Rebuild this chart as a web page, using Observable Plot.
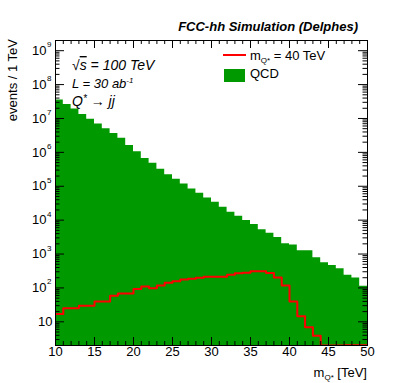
<!DOCTYPE html>
<html><head><meta charset="utf-8">
<script src="https://cdn.jsdelivr.net/npm/d3@7"></script>
<script src="https://cdn.jsdelivr.net/npm/@observablehq/plot@0.6"></script>
<style>
body{margin:0;background:#fff}
svg{font-family:"Liberation Sans",Arial,Helvetica,sans-serif}
</style>
</head><body><div id="chart"></div>
<script>
// bin lower edges (TeV), bin width 1 TeV
const binLow = [10,11,12,13,14,15,16,17,18,19,20,21,22,23,24,25,26,27,28,29,
                30,31,32,33,34,35,36,37,38,39,40,41,42,43,44,45,46,47,48,49];
const binHigh = 50;
// QCD background events / 1 TeV
const qcd = [3.5e7,2.6e7,1.9e7,1.3e7,9.5e6,6.9e6,5.0e6,3.6e6,2.6e6,1.6e6,
             1.05e6,6.6e5,4.8e5,3.2e5,2.2e5,1.6e5,1.17e5,8.3e4,6.2e4,4.5e4,
             3.4e4,2.4e4,1.7e4,1.3e4,9800,7400,5200,4100,3100,2000,
             1860,1260,1250,780,550,460,370,235,195,112];
// Signal m_Q* = 40 TeV
const signal = [17,25,25,30,30,40,40,59,69,69,
                93,110,97,118,141,158,178,186,200,214,
                214,214,245,270,282,309,309,277,204,118,
                40,14.5,6.9,3.9,2.0,2.0,2.0,2.05,2.05,2.05];
// axis ticks
const xTicks = [10,15,20,25,30,35,40,45,50];
const yExps = [1,2,3,4,5,6,7,8,9];
const yDomain = [2, 2e9];
const xDomain = [10, 50];

const W = 399, H = 383, mL = 55, mR = 32, mT = 40, mB = 38;
const iW = W - mL - mR, iH = H - mT - mB;

const pts = binLow.map((x, i) => ({x, qcd: qcd[i], sig: signal[i]}));
pts.push({x: binHigh, qcd: qcd[qcd.length - 1], sig: signal[signal.length - 1]});

const xMinor = d3.range(xDomain[0], xDomain[1] + 1).filter(v => !xTicks.includes(v));
const yMajorVals = yExps.map(e => 10 ** e);
const yMinor = d3.scaleLog().domain(yDomain).ticks().filter(v => v >= yDomain[0] && v <= yDomain[1] && !yMajorVals.some(m => Math.abs(m - v) / m < 1e-9));

const plot = Plot.plot({
  width: W, height: H,
  marginLeft: mL, marginRight: mR, marginTop: mT, marginBottom: mB,
  x: {domain: xDomain, axis: null},
  y: {type: "log", domain: yDomain, axis: null},
  style: {fontFamily: '"Liberation Sans",Arial,sans-serif', fontSize: "13px", background: "white", color: "black"},
  marks: [
    Plot.areaY(pts, {x: "x", y1: yDomain[0], y2: "qcd", curve: "step-after", fill: "#009900"}),
    Plot.line(pts, {x: "x", y: "sig", curve: "step-after", stroke: "#ff0000", strokeWidth: 2, clip: true}),
    // x ticks (bottom & top, inside)
    Plot.tickX(xMinor, {x: d => d, insetTop: iH - 4, stroke: "black"}),
    Plot.tickX(xTicks, {x: d => d, insetTop: iH - 8, stroke: "black"}),
    Plot.tickX(xMinor, {x: d => d, insetBottom: iH - 4, stroke: "black"}),
    Plot.tickX(xTicks, {x: d => d, insetBottom: iH - 8, stroke: "black"}),
    // y ticks (left & right, inside)
    Plot.tickY(yMinor, {y: d => d, insetRight: iW - 4.5, stroke: "black"}),
    Plot.tickY(yMajorVals, {y: d => d, insetRight: iW - 9, stroke: "black"}),
    Plot.tickY(yMinor, {y: d => d, insetLeft: iW - 4.5, stroke: "black"}),
    Plot.tickY(yMajorVals, {y: d => d, insetLeft: iW - 9, stroke: "black"}),
    Plot.frame({stroke: "black"}),
    // x tick labels
    Plot.text(xTicks, {x: d => d, text: d => String(d), frameAnchor: "bottom", dy: 10, fontSize: 13, fill: "black"}),
    // y tick labels
    Plot.text(yExps.filter(e => e === 1), {y: e => 10 ** e, text: () => "10", frameAnchor: "left", dx: -3, textAnchor: "end", fontSize: 13, fill: "black"}),
    Plot.text(yExps.filter(e => e > 1), {y: e => 10 ** e, text: () => "10", frameAnchor: "left", dx: -9, textAnchor: "end", fontSize: 13, fill: "black"}),
    Plot.text(yExps.filter(e => e > 1), {y: e => 10 ** e, text: e => String(e), frameAnchor: "left", dx: -4, dy: -6, textAnchor: "end", fontSize: 8, fill: "black"})
  ]
});
document.getElementById("chart").appendChild(plot);

const svg = d3.select(plot);
const ff = '"Liberation Sans",Arial,sans-serif';
function txt(x, y, size, anchor) {
  return svg.append("text").attr("x", x).attr("y", y).attr("font-size", size)
    .attr("text-anchor", anchor).attr("font-family", ff).attr("fill", "black");
}
// Title
txt(358, 31, 13, "end").attr("font-weight", "bold").attr("font-style", "italic")
  .text("FCC-hh Simulation (Delphes)");
// Y title
svg.append("text").attr("transform", "translate(17,39) rotate(-90)").attr("text-anchor", "end")
  .attr("font-size", 13).attr("font-family", ff).attr("fill", "black").text("events / 1 TeV");
// X title
const xt = txt(367, 377, 13, "end");
xt.append("tspan").text("m");
xt.append("tspan").attr("font-size", 8).attr("dy", 3).text("Q*");
xt.append("tspan").attr("dy", -3).text(" [TeV]");
// Legend
svg.append("line").attr("x1", 223).attr("x2", 246).attr("y1", 55).attr("y2", 55)
  .attr("stroke", "#ff0000").attr("stroke-width", 2);
const lt = txt(250, 60, 13, "start");
lt.append("tspan").text("m");
lt.append("tspan").attr("font-size", 8).attr("dy", 3).text("Q*");
lt.append("tspan").attr("dy", -3).text(" = 40 TeV");
svg.append("rect").attr("x", 224).attr("y", 69).attr("width", 21).attr("height", 13).attr("fill", "#009900");
txt(250, 78, 13, "start").text("QCD");
// Info text
const t1 = txt(72, 70, 14, "start").attr("font-style", "italic");
t1.append("tspan").attr("font-style", "normal").text("√");
t1.append("tspan").attr("text-decoration", "overline").text("s");
t1.append("tspan").text(" = 100 TeV");
const t2 = txt(72, 88, 13, "start").attr("font-style", "italic");
t2.append("tspan").text("L = 30 ab");
t2.append("tspan").attr("font-size", 8).attr("dy", -5).text("-1");
const t3 = txt(72, 106, 14, "start").attr("font-style", "italic");
t3.append("tspan").text("Q");
t3.append("tspan").attr("font-size", 10).attr("dy", -4).text("*");
t3.append("tspan").attr("dy", 4).text(" → jj");
</script>
</body></html>
